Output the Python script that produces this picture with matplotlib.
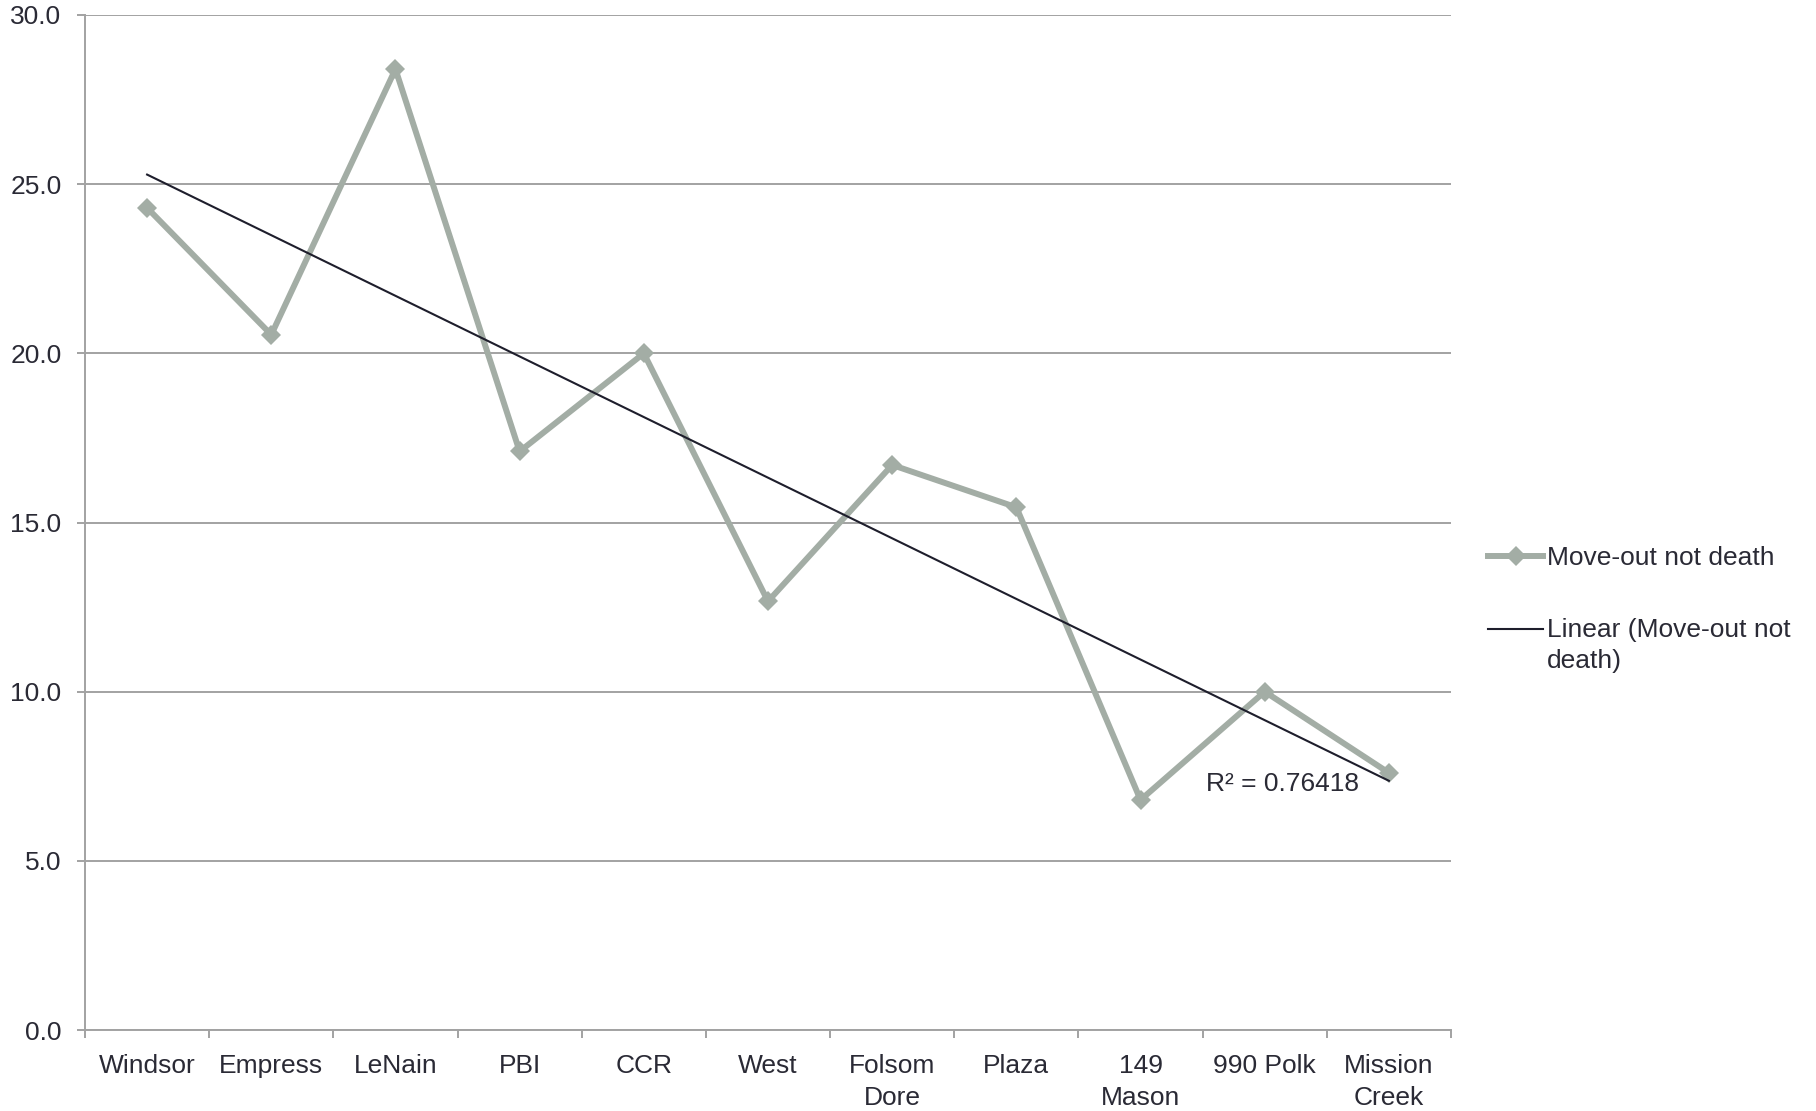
import numpy as np
import matplotlib
matplotlib.use("Agg")
import matplotlib.pyplot as plt
from matplotlib.ticker import FixedLocator, FuncFormatter

# Sites and the share of residents who moved out for reasons other than death
sites = ["Windsor", "Empress", "LeNain", "PBI", "CCR", "West", "Folsom\nDore",
         "Plaza", "149\nMason", "990 Polk", "Mission\nCreek"]
move_out = [24.3, 20.55, 28.4, 17.1, 20.0, 12.67, 16.7, 15.45, 6.8, 10.0, 7.6]
y_ticks = [0, 5, 10, 15, 20, 25, 30]
r_squared_label = "R² = 0.76418"

series_color = "#A3ADA5"
trend_color = "#1E1E2C"
grid_color = "#A2A2A2"
text_color = "#2A2A35"
fs = 19
line_gap = 1.4

plt.rcParams["font.family"] = ["Liberation Sans", "DejaVu Sans"]

fig = plt.figure(figsize=(18.16, 11.11), dpi=100)
ax = fig.add_axes([85 / 1816, 1 - 1030 / 1111, (1451 - 85) / 1816, (1030 - 15) / 1111])

x = np.arange(len(sites))
y = np.array(move_out)

# Data series
ax.plot(x, y, color=series_color, lw=4.3, marker="D", ms=10,
        markeredgewidth=0, zorder=3, label="Move-out not death",
        solid_joinstyle="miter")

# Least-squares trend line
slope, intercept = np.polyfit(x, y, 1)
ax.plot(x, slope * x + intercept, color=trend_color, lw=1.5, zorder=4,
        label="Linear (Move-out not\ndeath)")

ax.text(9.14, 7.28, r_squared_label, ha="center", va="center",
        fontsize=fs, color=text_color, zorder=5)

# Axes styling
ax.set_xlim(-0.5, len(sites) - 0.5)
ax.set_ylim(0, 30)
ax.yaxis.set_major_locator(FixedLocator(y_ticks))
ax.yaxis.set_major_formatter(FuncFormatter(lambda v, p: f"{v:.1f}"))
ax.grid(axis="y", color=grid_color, lw=1.4, zorder=0)
ax.set_axisbelow(True)

ax.xaxis.set_major_locator(FixedLocator(np.arange(len(sites) + 1) - 0.5))
ax.xaxis.set_major_formatter(FuncFormatter(lambda v, p: ""))
ax.xaxis.set_minor_locator(FixedLocator(x))
ax.set_xticklabels(sites, minor=True)
for lbl in ax.get_xticklabels(minor=True):
    lbl.set_linespacing(line_gap)
ax.tick_params(axis="x", which="major", length=6, width=1.4, color=grid_color,
               direction="out")
ax.tick_params(axis="x", which="minor", length=0, pad=17.5, labelsize=fs,
               labelcolor=text_color)
ax.tick_params(axis="y", which="major", length=6, width=1.4, color=grid_color,
               direction="out", pad=11, labelsize=fs, labelcolor=text_color)

for side in ("top", "right"):
    ax.spines[side].set_visible(False)
for side in ("left", "bottom"):
    ax.spines[side].set_color(grid_color)
    ax.spines[side].set_linewidth(1.4)

leg = fig.legend(loc="upper left", bbox_to_anchor=(1488 / 1816, 1 - 546 / 1111),
                 frameon=False, fontsize=fs, handlelength=2.1,
                 handletextpad=0.15, labelspacing=1.8, borderpad=0,
                 borderaxespad=0)
for t in leg.get_texts():
    t.set_color(text_color)
    t.set_linespacing(line_gap)
# Keep the trend-line handle level with the first line of its label
trend_handle = leg.legend_handles[1]
yd = np.asarray(trend_handle.get_ydata(), dtype=float)
trend_handle.set_ydata(yd + 11.7)

fig.savefig("out.png", dpi=100)
